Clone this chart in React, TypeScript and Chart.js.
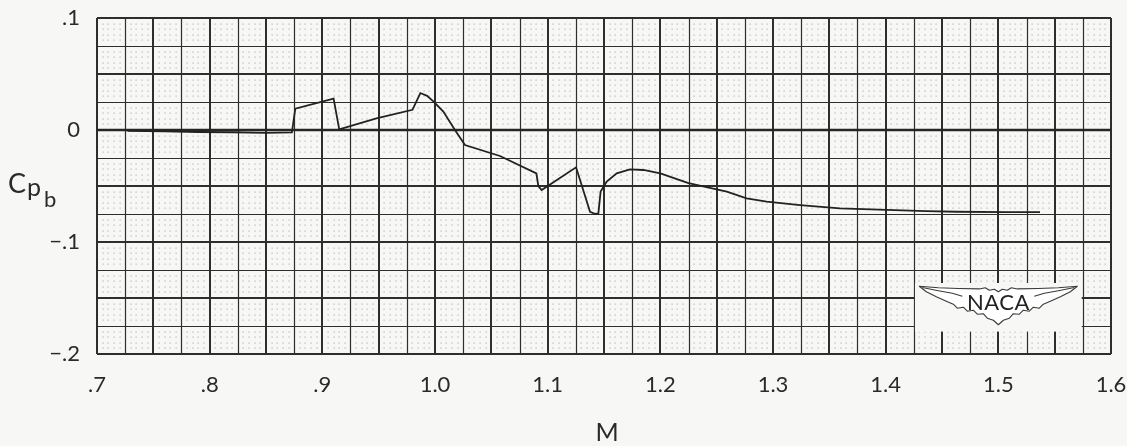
import React, { useEffect, useRef } from 'react';
import { Chart, registerables } from 'chart.js';

Chart.register(...registerables);

// Base pressure coefficient against free-stream Mach number
const machNumbers = [
  0.727, 0.76, 0.79, 0.82, 0.85, 0.873, 0.876, 0.91, 0.915, 0.948, 0.98, 0.987,
  0.993, 0.9985, 1.0074, 1.0177, 1.0266, 1.0577, 1.09, 1.0917, 1.0947, 1.1252,
  1.1376, 1.142, 1.145, 1.147, 1.1524, 1.1613, 1.173, 1.185, 1.2, 1.225, 1.259,
  1.2766, 1.2944, 1.324, 1.3594, 1.4009, 1.436, 1.463, 1.507, 1.537,
];
const basePressure = [
  -0.0008, -0.0012, -0.0018, -0.002, -0.0025, -0.0022, 0.019, 0.028, 0.0005, 0.0104, 0.018, 0.033,
  0.0305, 0.0255, 0.0164, 0.0, -0.0134, -0.0232, -0.0387, -0.05, -0.0536, -0.0333,
  -0.073, -0.0748, -0.0744, -0.055, -0.046, -0.0387, -0.0352, -0.0357, -0.0387, -0.0475, -0.0551,
  -0.061, -0.064, -0.067, -0.07, -0.0714, -0.0725, -0.073, -0.0733, -0.0733,
];

// Labelled axis ticks
const machTicks = [0.7, 0.8, 0.9, 1.0, 1.1, 1.2, 1.3, 1.4, 1.5, 1.6];
const pressureTicks = [-0.2, -0.1, 0, 0.1];

// Graph-paper rulings (in data units)
const MINOR_STEP = 0.005;
const MINORS_PER_MAJOR = 5;
const MINORS_PER_HEAVY = 10;

// Emblem placement (in data units)
const EMBLEM_BOX = { machMin: 1.426, machMax: 1.574, cpTop: -0.1366, cpBottom: -0.18 };
const EMBLEM_CENTER = { mach: 1.5, cp: -0.156 };

const PAPER = '#f7f7f5';
const INK = '#2e2e2e';
const FONT = 'Lato, "DejaVu Sans", sans-serif';

const formatMach = (v: number) => {
  const r = Math.round(v * 10) / 10;
  return r < 1 ? '.' + Math.round(r * 10) : r.toFixed(1);
};
const formatPressure = (v: number) => {
  const r = Math.round(v * 10);
  if (r === 0) return '0';
  return (r < 0 ? '\u2212' : '') + '.' + Math.abs(r);
};

const wingTop: [number, number][] = [
  [0, -13], [4, -15.5], [9, -14.5], [13, -17], [19, -15.8], [40, -16.2], [60, -17], [79, -18.5],
];
const wingBottom: [number, number][] = [
  [79, -18.5], [72, -13], [62, -8], [52, -3.5], [45, -0.5], [41, 3.5], [35, 2.5], [31, 6.5],
  [25, 5.5], [21, 9.5], [15, 9], [11, 13.5], [5, 15.5], [0, 20],
];
const wingInner: [number, number][] = [[76, -17.2], [60, -14], [46, -11.5], [36, -8.5]];

const graphPaper = {
  id: 'graphPaper',
  beforeDatasetsDraw(chart: any) {
    const { ctx, chartArea, scales } = chart;
    const x = scales.x;
    const y = scales.y;
    const nx = Math.round((x.max - x.min) / MINOR_STEP);
    const ny = Math.round((y.max - y.min) / MINOR_STEP);
    const px = (i: number) => x.getPixelForValue(x.min + i * MINOR_STEP);
    const py = (j: number) => y.getPixelForValue(y.min + j * MINOR_STEP);
    ctx.save();

    // dotted minor rulings
    ctx.fillStyle = '#b4b4b4';
    for (let i = 0; i <= nx; i++) {
      if (i % MINORS_PER_MAJOR === 0) continue;
      for (let j = 0; j <= ny; j++) {
        if (j % MINORS_PER_MAJOR === 0) continue;
        ctx.fillRect(Math.round(px(i)) - 0.5, Math.round(py(j)) - 0.5, 1.2, 1.2);
      }
    }

    // solid major rulings
    ctx.strokeStyle = INK;
    for (let i = 0; i <= nx; i += MINORS_PER_MAJOR) {
      const heavy = i % MINORS_PER_HEAVY === 0;
      ctx.lineWidth = heavy ? 2 : 1.2;
      const xx = Math.round(px(i)) + (heavy ? 0 : 0.5);
      ctx.beginPath();
      ctx.moveTo(xx, chartArea.top);
      ctx.lineTo(xx, chartArea.bottom);
      ctx.stroke();
    }
    for (let j = 0; j <= ny; j += MINORS_PER_MAJOR) {
      const heavy = j % MINORS_PER_HEAVY === 0;
      ctx.lineWidth = heavy ? 2 : 1.2;
      const yy = Math.round(py(j)) + (heavy ? 0 : 0.5);
      ctx.beginPath();
      ctx.moveTo(chartArea.left, yy);
      ctx.lineTo(chartArea.right, yy);
      ctx.stroke();
    }

    // zero reference line
    const y0 = y.getPixelForValue(0);
    ctx.lineWidth = 2.6;
    ctx.strokeStyle = '#262626';
    ctx.beginPath();
    ctx.moveTo(chartArea.left, y0);
    ctx.lineTo(chartArea.right, y0);
    ctx.stroke();

    // NACA emblem
    const bx0 = x.getPixelForValue(EMBLEM_BOX.machMin);
    const bx1 = x.getPixelForValue(EMBLEM_BOX.machMax);
    const by0 = y.getPixelForValue(EMBLEM_BOX.cpTop);
    const by1 = y.getPixelForValue(EMBLEM_BOX.cpBottom);
    ctx.fillStyle = PAPER;
    ctx.fillRect(bx0, by0, bx1 - bx0, by1 - by0);

    const cx = x.getPixelForValue(EMBLEM_CENTER.mach);
    const cy = y.getPixelForValue(EMBLEM_CENTER.cp);
    ctx.beginPath();
    wingTop.forEach(([dx, dy], k) => (k ? ctx.lineTo(cx + dx, cy + dy) : ctx.moveTo(cx + dx, cy + dy)));
    wingBottom.forEach(([dx, dy]) => ctx.lineTo(cx + dx, cy + dy));
    [...wingBottom].reverse().forEach(([dx, dy]) => ctx.lineTo(cx - dx, cy + dy));
    [...wingTop].reverse().forEach(([dx, dy]) => ctx.lineTo(cx - dx, cy + dy));
    ctx.closePath();
    ctx.fillStyle = '#ffffff';
    ctx.fill();
    ctx.lineWidth = 1.1;
    ctx.strokeStyle = '#3a3a3a';
    ctx.lineJoin = 'round';
    ctx.stroke();
    [1, -1].forEach((side) => {
      ctx.beginPath();
      wingInner.forEach(([dx, dy], k) =>
        k ? ctx.lineTo(cx + side * dx, cy + dy) : ctx.moveTo(cx + side * dx, cy + dy)
      );
      ctx.stroke();
    });
    ctx.fillStyle = '#222';
    ctx.font = `22px ${FONT}`;
    (ctx as any).letterSpacing = '0.5px';
    ctx.textAlign = 'center';
    ctx.textBaseline = 'middle';
    ctx.fillText('NACA', cx, cy - 2);
    ctx.restore();
  },
  afterDraw(chart: any) {
    const { ctx, chartArea } = chart;
    ctx.save();
    ctx.fillStyle = '#2a2a2a';
    ctx.textBaseline = 'alphabetic';
    ctx.textAlign = 'left';
    // y-axis title C_p_b
    ctx.font = `27px ${FONT}`;
    ctx.fillText('C', 8, 193);
    ctx.font = `25px ${FONT}`;
    ctx.fillText('p', 27, 196);
    ctx.font = `22px ${FONT}`;
    ctx.fillText('b', 44, 207);
    // x-axis title
    ctx.font = `25px ${FONT}`;
    ctx.textAlign = 'center';
    ctx.fillText('M', (chartArea.left + chartArea.right) / 2 + 3, 441);
    ctx.restore();
  },
};

export default function App() {
  const canvasRef = useRef<HTMLCanvasElement | null>(null);

  useEffect(() => {
    const canvas = canvasRef.current;
    if (!canvas) return;
    const chart = new Chart(canvas, {
      type: 'line',
      data: {
        datasets: [
          {
            label: 'Cpb',
            data: machNumbers.map((m, i) => ({ x: m, y: basePressure[i] })),
            borderColor: '#222222',
            borderWidth: 1.8,
            pointRadius: 0,
            tension: 0,
            fill: false,
          },
        ],
      },
      options: {
        responsive: false,
        animation: false,
        events: [],
        layout: { padding: { left: 0, right: 16, top: 18, bottom: 0 } },
        plugins: { legend: { display: false }, tooltip: { enabled: false } },
        scales: {
          x: {
            type: 'linear',
            min: 0.7,
            max: 1.6,
            grid: { display: false, drawTicks: false },
            border: { display: false },
            afterBuildTicks: (scale: any) => {
              scale.ticks = machTicks.map((v) => ({ value: v }));
            },
            afterFit: (scale: any) => {
              scale.height = 92;
              scale.paddingLeft = 0;
              scale.paddingRight = 0;
            },
            ticks: {
              autoSkip: false,
              maxRotation: 0,
              padding: 18,
              color: '#2a2a2a',
              font: { family: FONT, size: 22 },
              callback: (v: any) => formatMach(Number(v)),
            },
          },
          y: {
            type: 'linear',
            min: -0.2,
            max: 0.1,
            grid: { display: false, drawTicks: false },
            border: { display: false },
            afterBuildTicks: (scale: any) => {
              scale.ticks = pressureTicks.map((v) => ({ value: v }));
            },
            afterFit: (scale: any) => {
              scale.width = 97;
              scale.paddingTop = 0;
              scale.paddingBottom = 0;
            },
            ticks: {
              autoSkip: false,
              padding: 17,
              color: '#2a2a2a',
              font: { family: FONT, size: 22 },
              callback: (v: any) => formatPressure(Number(v)),
            },
          },
        },
      },
      plugins: [graphPaper],
    });
    return () => chart.destroy();
  }, []);

  return (
    <div
      style={{
        position: 'fixed',
        left: 0,
        top: 0,
        width: 1127,
        height: 446,
        background: PAPER,
      }}
    >
      <canvas ref={canvasRef} width={1127} height={446} style={{ display: 'block' }} />
    </div>
  );
}
